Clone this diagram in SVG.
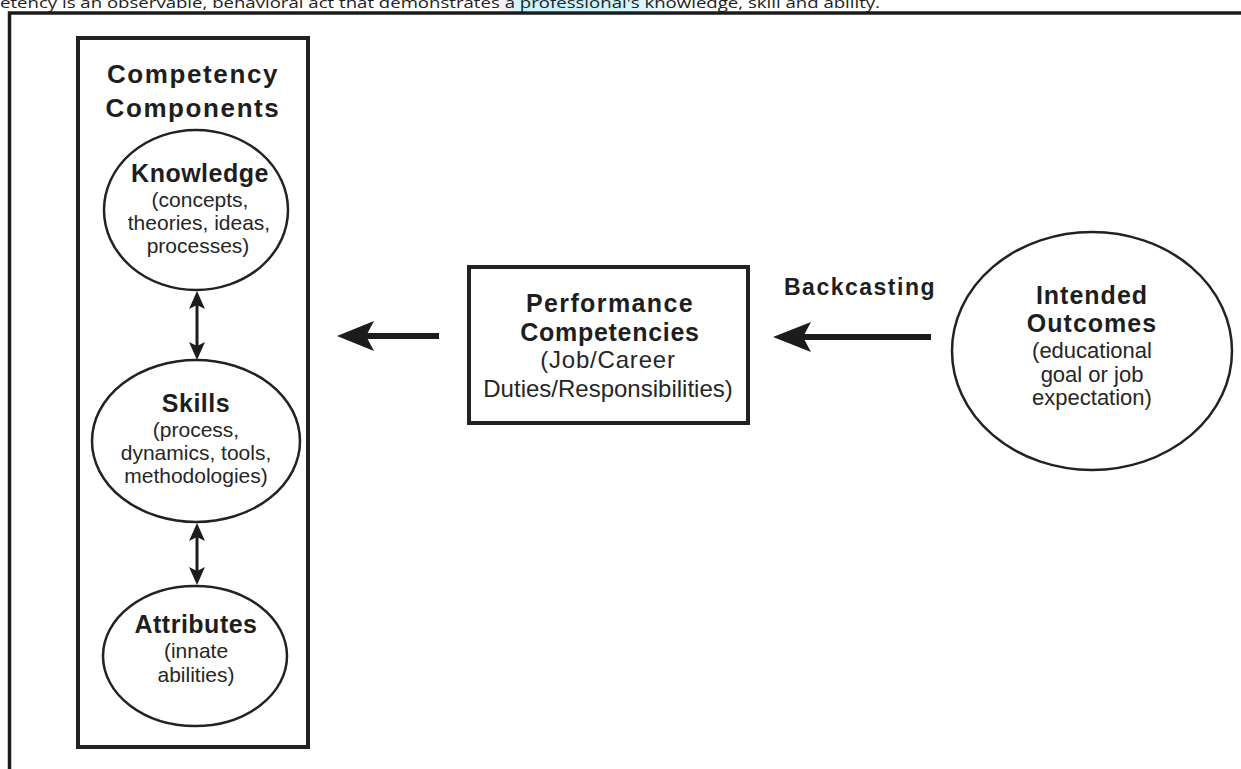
<svg xmlns="http://www.w3.org/2000/svg" width="1241" height="769" viewBox="0 0 1241 769">
<defs>
<linearGradient id="hl" x1="0" y1="0" x2="1" y2="0">
<stop offset="0" stop-color="#fbeef5"/>
<stop offset="0.12" stop-color="#c9f3fb"/>
<stop offset="0.65" stop-color="#cff4fb"/>
<stop offset="1" stop-color="#ffffff"/>
</linearGradient>
<style>
.frame{fill:none;stroke:#1c1c1c;stroke-width:3.5}
.box{fill:#fff;stroke:#222;stroke-width:4}
.ell{fill:#fff;stroke:#222;stroke-width:2.5}
.t{font-family:"Liberation Sans",Arial,sans-serif;fill:#262626;text-anchor:middle}
.b{font-weight:bold;fill:#1e1e1e}
.line{stroke:#1c1c1c;fill:none}
.head{fill:#1c1c1c;stroke:none}
.cap{font-family:"Open Sans","Liberation Sans",sans-serif;font-size:15px;fill:#222}
</style>
</defs>
<rect width="1241" height="769" fill="#fff"/>
<rect x="500" y="0" width="195" height="11" fill="url(#hl)"/>
<text class="cap" x="0" y="7.5" textLength="880" lengthAdjust="spacingAndGlyphs">etency is an observable, behavioral act that demonstrates a professional's knowledge, skill and ability.</text>
<path class="frame" d="M9.5,769 V13 H1241"/>

<g id="competency-components">
<rect class="box" x="78" y="38" width="230" height="709"/>
<text class="t b" x="193" y="83" font-size="26" letter-spacing="1.6">Competency</text>
<text class="t b" x="193" y="117" font-size="26" letter-spacing="1.6">Components</text>
</g>

<g id="knowledge">
<ellipse class="ell" cx="196" cy="210" rx="92" ry="80"/>
<text class="t b" x="200" y="182" font-size="25" letter-spacing="0.5">Knowledge</text>
<text class="t" x="200" y="207" font-size="21">(concepts,</text>
<text class="t" x="199" y="230" font-size="21">theories, ideas,</text>
<text class="t" x="198" y="253" font-size="21">processes)</text>
</g>

<g id="skills">
<ellipse class="ell" cx="196" cy="441" rx="104" ry="81"/>
<text class="t b" x="196" y="412" font-size="25" letter-spacing="0.5">Skills</text>
<text class="t" x="196" y="437" font-size="21">(process,</text>
<text class="t" x="196" y="460" font-size="21">dynamics, tools,</text>
<text class="t" x="196" y="483" font-size="21">methodologies)</text>
</g>

<g id="attributes">
<ellipse class="ell" cx="195" cy="656" rx="92" ry="70"/>
<text class="t b" x="196" y="633" font-size="25" letter-spacing="0.5">Attributes</text>
<text class="t" x="196" y="658" font-size="21">(innate</text>
<text class="t" x="196" y="682" font-size="21">abilities)</text>
</g>

<g id="performance-competencies">
<rect class="box" x="469" y="267" width="279" height="156"/>
<text class="t b" x="610" y="312" font-size="25" letter-spacing="1.4">Performance</text>
<text class="t b" x="610" y="341" font-size="25" letter-spacing="0.7">Competencies</text>
<text class="t" x="608" y="368" font-size="24" letter-spacing="0.8">(Job/Career</text>
<text class="t" x="608" y="397" font-size="24">Duties/Responsibilities)</text>
</g>

<g id="intended-outcomes">
<ellipse class="ell" cx="1092" cy="351" rx="140" ry="119"/>
<text class="t b" x="1092" y="304" font-size="25" letter-spacing="1">Intended</text>
<text class="t b" x="1092" y="332" font-size="25" letter-spacing="1">Outcomes</text>
<text class="t" x="1092" y="358" font-size="22">(educational</text>
<text class="t" x="1092" y="382" font-size="22">goal or job</text>
<text class="t" x="1092" y="405" font-size="22">expectation)</text>
</g>

<g id="backcasting-label">
<text class="t b" x="860" y="295" font-size="23" letter-spacing="1.5">Backcasting</text>
</g>

<g id="connectors">
<line class="line" x1="197" y1="305" x2="197" y2="346" stroke-width="3"/>
<path class="head" d="M197,291 L205,309 L197,305 L189,309 Z"/>
<path class="head" d="M197,360 L205,342 L197,346 L189,342 Z"/>
<line class="line" x1="197" y1="537" x2="197" y2="571" stroke-width="3"/>
<path class="head" d="M197,523 L205,541 L197,537 L189,541 Z"/>
<path class="head" d="M197,585 L205,567 L197,571 L189,567 Z"/>
<line class="line" x1="364" y1="336" x2="439" y2="336" stroke-width="6"/>
<path class="head" d="M337,336 L374,321 L366,336 L374,351 Z"/>
<line class="line" x1="802" y1="337" x2="931" y2="337" stroke-width="6"/>
<path class="head" d="M773,337 L811,322 L803,337 L811,352 Z"/>
</g>
</svg>
